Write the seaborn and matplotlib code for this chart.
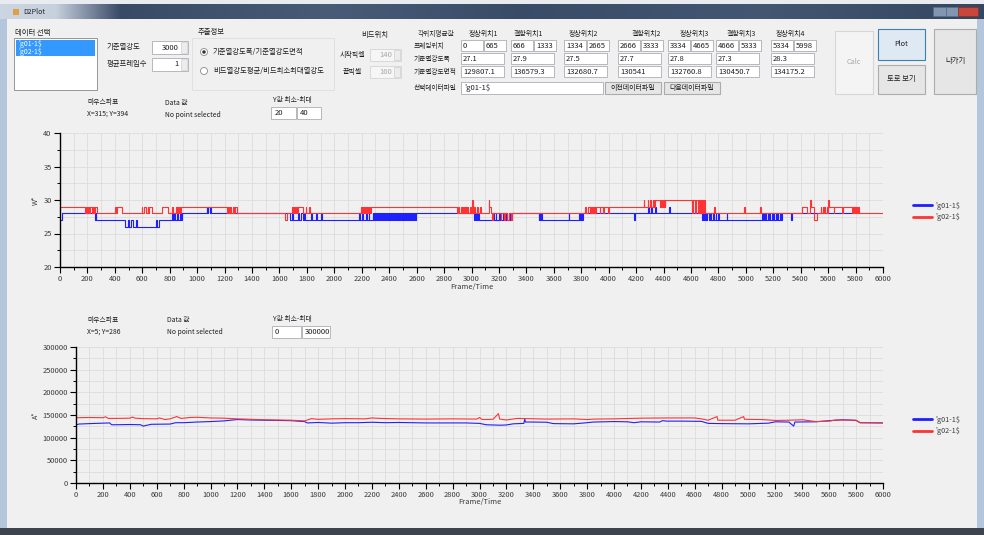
import matplotlib
matplotlib.use("Agg")
import matplotlib.pyplot as plt
from matplotlib.patches import Rectangle, Ellipse
from matplotlib.ticker import MultipleLocator, StrMethodFormatter
import numpy as np
import pandas as pd
import seaborn as sns

# ---- data ----
SERIES = ["'g01-1$", "'g02-1$"]

# upper chart: step series, (frame, level) at each change
TOP_BLUE = [
    (0, 27), (12, 28), (255, 27), (260, 28), (266, 27),
    (474, 26), (498, 27), (504, 26), (520, 27), (530, 26), (556, 27), (561, 26),
    (700, 27), (708, 26), (725, 27),
    (814, 28), (822, 27), (830, 28), (840, 27), (850, 28), (860, 27), (872, 28), (880, 27), (888, 28),
    (1069, 29), (1075, 28), (1080, 29), (1090, 28), (1096, 29), (1104, 28),
    (1680, 27), (1690, 28), (1700, 27), (1735, 28), (1742, 27), (1760, 28), (1768, 27), (1778, 28),
    (1786, 27), (1832, 28), (1838, 27), (1868, 28), (1874, 27), (1903, 28), (1909, 27),
    (2182, 28), (2190, 27), (2200, 28), (2206, 27), (2232, 28), (2240, 27), (2250, 28), (2256, 27),
    (2279, 28), (2285, 27), (2291, 28), (2297, 27), (2303, 28), (2309, 27), (2315, 28), (2321, 27),
    (2327, 28), (2333, 27), (2339, 28), (2345, 27), (2351, 28), (2357, 27), (2363, 28), (2369, 27),
    (2376, 28), (2382, 27), (2388, 28), (2394, 27), (2400, 28), (2406, 27), (2412, 28), (2418, 27),
    (2424, 28), (2430, 27), (2436, 28), (2442, 27), (2448, 28), (2454, 27), (2461, 28), (2467, 27),
    (2473, 28), (2479, 27), (2485, 28), (2491, 27), (2497, 28), (2503, 27), (2509, 28), (2515, 27),
    (2521, 28), (2527, 27), (2533, 28), (2539, 27), (2545, 28), (2551, 27), (2557, 28), (2563, 27),
    (2569, 28), (2575, 27), (2581, 28), (2587, 27), (2594, 28),
    (3018, 27), (3024, 28), (3030, 27), (3036, 28), (3042, 27), (3048, 28), (3054, 27),
    (3155, 28), (3162, 27), (3175, 28), (3182, 27), (3200, 28), (3208, 27), (3230, 28), (3240, 27),
    (3255, 28), (3262, 27), (3275, 28), (3282, 27), (3297, 28),
    (3490, 27), (3495, 28), (3500, 27), (3510, 28), (3516, 27), (3709, 28), (3714, 27),
    (3782, 28), (3788, 27), (3800, 28), (3806, 27), (3815, 28),
    (4182, 27), (4190, 28),
    (4290, 29), (4296, 28), (4310, 29), (4318, 28), (4335, 29), (4345, 28), (4440, 29), (4446, 28),
    (4684, 27), (4690, 28), (4698, 27), (4705, 28), (4712, 27), (4720, 28), (4728, 27), (4740, 28),
    (4748, 27), (4760, 28), (4768, 27), (4780, 28), (4786, 27), (4798, 28), (4805, 27),
    (4860, 28), (4866, 27),
    (5120, 28), (5126, 27), (5132, 28), (5138, 27), (5144, 28), (5150, 27), (5160, 28), (5166, 27),
    (5172, 28), (5178, 27), (5190, 28), (5196, 27), (5202, 28), (5208, 27), (5220, 28), (5226, 27),
    (5232, 28), (5238, 27), (5250, 28), (5256, 27), (5265, 28),
    (5331, 27), (5340, 28),
    (5787, 29), (5793, 28), (5799, 29), (5805, 28), (5811, 29), (5817, 28), (5823, 28),
]

TOP_RED = [
    (0, 29), (182, 28), (190, 29), (198, 28), (205, 29), (215, 28), (222, 29), (232, 28),
    (240, 29), (250, 28), (258, 29), (267, 28),
    (402, 29), (408, 28), (414, 29), (450, 28),
    (595, 29), (600, 28), (615, 29), (630, 28), (640, 29), (645, 28), (650, 29), (668, 28),
    (741, 29), (790, 28),
    (816, 29), (822, 28), (845, 29), (850, 28), (855, 29), (862, 28), (868, 29), (875, 28), (880, 29),
    (1217, 28), (1225, 29), (1232, 28), (1240, 29), (1250, 28), (1258, 29), (1265, 28), (1275, 29), (1290, 28),
    (1640, 27), (1652, 28), (1690, 29), (1696, 28), (1705, 29), (1712, 28), (1722, 29), (1728, 28),
    (1735, 29), (1770, 28), (1790, 29), (1796, 28), (1815, 29), (1820, 28),
    (2194, 29), (2200, 28), (2206, 29), (2212, 28), (2218, 29), (2224, 28), (2230, 29), (2236, 28),
    (2242, 29), (2248, 28), (2254, 29), (2260, 28), (2267, 29),
    (2897, 28), (2905, 29), (2912, 28), (2920, 29), (2930, 28), (2938, 29), (2945, 28), (2955, 29),
    (2962, 28), (2970, 29), (2978, 28), (2990, 29), (2998, 28), (3004, 30), (3008, 28), (3020, 29),
    (3026, 28), (3040, 29), (3046, 28), (3060, 29), (3066, 28), (3125, 30), (3130, 29), (3140, 28),
    (3150, 27), (3158, 28), (3212, 27), (3218, 28), (3240, 27), (3246, 28), (3262, 27), (3270, 28),
    (3285, 27), (3292, 28),
    (3830, 29), (3836, 28), (3850, 29), (3866, 28), (3872, 29), (3878, 28), (3884, 29), (3890, 28),
    (3896, 29), (3903, 28), (3908, 29), (3935, 28), (3940, 29), (3960, 28), (3966, 29), (3995, 28), (4000, 29),
    (4254, 30), (4260, 29), (4284, 30), (4290, 29), (4300, 30), (4310, 29), (4320, 30), (4330, 29),
    (4340, 30), (4372, 29), (4378, 30), (4384, 29), (4390, 30), (4396, 29), (4402, 30), (4408, 29), (4414, 30),
    (4611, 28), (4617, 30), (4630, 28), (4636, 30), (4650, 28), (4656, 30), (4664, 28), (4670, 30),
    (4676, 28), (4682, 30), (4688, 28), (4694, 30), (4700, 28),
    (4768, 29), (4774, 28), (4987, 29), (4993, 28), (5103, 29), (5109, 28),
    (5410, 29), (5445, 28), (5470, 30), (5476, 29), (5500, 27), (5520, 28), (5545, 29), (5550, 28),
    (5560, 29), (5565, 28), (5572, 29), (5580, 28), (5590, 29), (5596, 28), (5600, 30), (5604, 29),
    (5640, 28), (5646, 29), (5700, 28), (5706, 29), (5775, 28), (5780, 29), (5786, 28), (5792, 29),
    (5798, 28), (5804, 29), (5810, 28), (5816, 29), (5823, 28), (6000, 28),
]

# lower chart: area values, (frame, value)
BOT_BLUE = [
    (0, 128000), (20, 130000), (100, 131000), (200, 132000), (250, 132500), (265, 128500),
    (300, 128500), (400, 129000), (480, 128500), (500, 125500), (520, 127000), (560, 129500),
    (700, 130000), (720, 131500), (740, 133000), (800, 133000), (900, 134500), (1000, 135500),
    (1100, 137000), (1200, 140000), (1300, 139000), (1400, 138500), (1500, 138000), (1600, 137500),
    (1700, 135500), (1720, 132500), (1800, 133500), (1900, 132000), (2000, 133000), (2100, 133000),
    (2200, 134000), (2300, 133000), (2400, 133500), (2500, 133000), (2600, 132500), (2700, 132500),
    (2900, 132500), (3000, 131500), (3050, 128500), (3150, 127500), (3200, 128000), (3250, 130500),
    (3330, 131500), (3336, 141000), (3342, 134500), (3400, 134500), (3500, 134000), (3550, 131000),
    (3700, 130500), (3780, 132500), (3850, 134500), (4000, 135500), (4100, 135000), (4150, 133000),
    (4200, 135000), (4340, 134500), (4360, 137500), (4390, 136500), (4500, 136500), (4650, 136000),
    (4700, 131500), (4800, 131000), (5000, 130500), (5150, 132000), (5200, 135000), (5300, 134500),
    (5336, 125500), (5345, 134500), (5500, 135000), (5600, 137500), (5700, 139500), (5800, 138000),
    (5830, 133000), (6000, 132500),
]

BOT_RED = [
    (0, 144000), (100, 144500), (200, 144000), (220, 146000), (240, 142500), (300, 142500),
    (400, 143000), (420, 145500), (440, 143000), (500, 142000), (600, 141500), (620, 143500),
    (660, 140000), (700, 141500), (750, 146500), (780, 142500), (850, 144500), (900, 145000),
    (1000, 143500), (1100, 143000), (1200, 141500), (1300, 140500), (1400, 139500), (1500, 139000),
    (1600, 138500), (1700, 137000), (1750, 142000), (1800, 140500), (1900, 141500), (2000, 142000),
    (2150, 141500), (2200, 143500), (2260, 142500), (2400, 141500), (2600, 141000), (2800, 141500),
    (2980, 141000), (3000, 144500), (3020, 140000), (3100, 140500), (3141, 153000), (3150, 141000),
    (3200, 139000), (3280, 142500), (3350, 142000), (3500, 141000), (3700, 141500), (3800, 140000),
    (3850, 141000), (4000, 141500), (4200, 143000), (4400, 143500), (4600, 143500), (4650, 141500),
    (4700, 138500), (4766, 146500), (4772, 138500), (4900, 138500), (4964, 146500), (4970, 140500),
    (5100, 140000), (5200, 138000), (5300, 138500), (5400, 139500), (5450, 137500), (5500, 135500),
    (5600, 136500), (5650, 139000), (5800, 138500), (5830, 133000), (6000, 132500),
]

# form values shown above the charts
HEADERS = ["정상위치1", "결함위치1", "정상위치2", "결함위치2", "정상위치3", "결함위치3", "정상위치4"]
FRAME_RANGES = [("0", "665"), ("666", "1333"), ("1334", "2665"), ("2666", "3333"),
                ("3334", "4665"), ("4666", "5333"), ("5334", "5998")]
WIDTH_AVG = ["27.1", "27.9", "27.5", "27.7", "27.8", "27.3", "28.3"]
AREA_AVG = ["129807.1", "136579.3", "132680.7", "130541", "132760.8", "130450.7", "134175.2"]

COLORS = {SERIES[0]: "#1f1fff", SERIES[1]: "#ff3333"}

sns.set_theme(style="whitegrid", rc={
    "figure.facecolor": "#f0f0f0", "axes.facecolor": "#f0f0f0",
    "grid.color": "#dcdcdc", "axes.edgecolor": "black",
})
plt.rcParams["font.family"] = ["Noto Sans CJK KR", "DejaVu Sans"]

W, H = 984, 535
UI = 5.3   # form label size
NUM = 5.5  # numbers inside text boxes
fig = plt.figure(figsize=(W / 100, H / 100), dpi=100)


def fx(x):
    return x / W


def fy(y):
    return 1 - y / H


def rect(x0, y0, x1, y1, fc="white", ec="#abadb3", lw=0.6, z=1):
    fig.add_artist(Rectangle((fx(x0), fy(y1)), (x1 - x0) / W, (y1 - y0) / H,
                             transform=fig.transFigure, facecolor=fc, edgecolor=ec,
                             linewidth=lw, zorder=z))


def text(x, y, s, size=UI, color="#1e1e1e", ha="left", z=3):
    fig.text(fx(x), fy(y), s, fontsize=size, color=color, ha=ha, va="center", zorder=z)


def spin(x0, y0, x1, y1, val, enabled=True):
    fc = "white" if enabled else "#f6f6f6"
    tc = "#1e1e1e" if enabled else "#a8a8a8"
    rect(x0, y0, x1, y1, fc=fc, ec="#abadb3" if enabled else "#d4d4d4")
    rect(x1 - 7, y0 + 1, x1 - 1, y1 - 1, fc="#ececec", ec="#c8c8c8", lw=0.4, z=2)
    text(x1 - 9, (y0 + y1) / 2, val, size=NUM, color=tc, ha="right")


def button(x0, y0, x1, y1, label, fc="#e6e6e6", ec="#acacac", tc="#1e1e1e", size=UI):
    rect(x0, y0, x1, y1, fc=fc, ec=ec, lw=0.8)
    text((x0 + x1) / 2, (y0 + y1) / 2, label, size=size, color=tc, ha="center")


# ---- window chrome ----
tb = fig.add_axes([0, fy(19), 1, 15 / H])
xs = np.arange(W)
stops_x = [0, 55, 120, 330, 520, 760, 984]
grad = np.stack([np.interp(xs, stops_x, [0.80, 0.78, 0.22, 0.28, 0.22, 0.26, 0.20]),
                 np.interp(xs, stops_x, [0.84, 0.82, 0.29, 0.36, 0.30, 0.34, 0.28]),
                 np.interp(xs, stops_x, [0.89, 0.87, 0.40, 0.47, 0.41, 0.45, 0.38])], axis=-1)
tb.imshow(grad[None, :, :], aspect="auto", extent=[0, W, 0, 1])
tb.axis("off")
rect(0, 0, 984, 4, fc="#e8ecf1", ec="none")
rect(13, 9, 19, 15, fc="#e0a040", ec="none", z=3)
text(23, 12, "D2Plot", size=5.0, color="#202020")
rect(933, 7, 946, 16, fc="#8196b0", ec="#5b6f88", lw=0.5, z=3)
rect(946, 7, 958, 16, fc="#8196b0", ec="#5b6f88", lw=0.5, z=3)
rect(958, 7, 978, 16, fc="#c8473a", ec="#8e2f26", lw=0.5, z=3)
rect(0, 19, 7, 529, fc="#b3c6db", ec="none")
rect(977, 19, 984, 529, fc="#b3c6db", ec="none")
rect(0, 528, 984, 535, fc="#3d444d", ec="none", z=2)

# ---- form controls ----
text(15, 33, "데이터 선택")
rect(14, 38, 97, 90, fc="white", ec="#828790")
rect(16, 40, 95, 48, fc="#3399ff", ec="none", z=2)
rect(16, 48, 95, 56, fc="#3399ff", ec="none", z=2)
text(18, 44, SERIES[0], size=5.0, color="white")
text(18, 52, SERIES[1], size=5.0, color="white")

text(107, 47, "기준열강도")
spin(152, 41, 188, 54, "3000")
text(107, 64, "평균프레임수")
spin(152, 58, 188, 71, "1")

rect(192, 38, 334, 90, fc="none", ec="#dedede")
text(198, 32, "추출정보")
fig.add_artist(Ellipse((fx(204), fy(52)), 7 / W, 7 / H, transform=fig.transFigure,
                       facecolor="white", edgecolor="#8a8a8a", lw=0.6, zorder=3))
fig.add_artist(Ellipse((fx(204), fy(52)), 3.5 / W, 3.5 / H, transform=fig.transFigure,
                       facecolor="#333333", edgecolor="none", zorder=4))
text(213, 52, "기준열강도폭/기준열강도면적")
fig.add_artist(Ellipse((fx(204), fy(71)), 7 / W, 7 / H, transform=fig.transFigure,
                       facecolor="white", edgecolor="#8a8a8a", lw=0.6, zorder=3))
text(213, 71, "비드열강도평균/비드최소최대열강도")

text(361, 35, "비드위치")
text(340, 55, "시작픽셀", size=5.0)
spin(370, 49, 401, 61, "140", enabled=False)
text(343, 72, "끝픽셀", size=5.0)
spin(370, 66, 401, 78, "160", enabled=False)

text(87, 102, "마우스좌표", size=4.9)
text(87, 114, "X=315; Y=394", size=4.9)
text(165, 103, "Data 값", size=4.9)
text(165, 115, "No point selected", size=4.9)
text(273, 100, "Y값 최소-최대", size=4.9)
rect(271, 107, 296, 119)
text(275, 113, "20", size=NUM)
rect(297, 107, 321, 119)
text(300, 113, "40", size=NUM)

text(418, 34, "각위치평균값", size=4.8)
col_x = [461, 511, 564, 618, 668, 716, 771]
head_cx = [483, 528, 583, 646, 694, 741, 790]
for cx, h in zip(head_cx, HEADERS):
    text(cx, 34, h, ha="center", size=5.0)
text(414, 46, "프레임위치", size=4.8)
text(414, 59, "기준열강도폭", size=4.8)
text(414, 72, "기준열강도면적", size=4.8)
text(414, 88, "선택데이터파일", size=4.8)
for x0, (a, b), wv, av in zip(col_x, FRAME_RANGES, WIDTH_AVG, AREA_AVG):
    rect(x0, 40, x0 + 22, 51)
    text(x0 + 2, 46, a, size=NUM)
    rect(x0 + 23, 40, x0 + 45, 51)
    text(x0 + 25, 46, b, size=NUM)
    rect(x0, 53, x0 + 43, 64)
    text(x0 + 2, 59, wv, size=NUM)
    rect(x0, 66, x0 + 43, 77)
    text(x0 + 2, 72, av, size=NUM)
rect(461, 82, 603, 94)
text(464, 88, SERIES[0], size=NUM)
button(605, 82, 661, 94, "이전데이터파일", size=5.0)
button(664, 82, 720, 94, "다음데이터파일", size=5.0)

button(835, 31, 873, 94, "Calc", fc="#f4f4f4", ec="#d6d6d6", tc="#a8a8a8")
button(878, 29, 925, 60, "Plot", fc="#dfe9f4", ec="#3c7fb1")
button(878, 65, 925, 94, "토로 보기")
button(934, 29, 976, 94, "나가기")

text(87, 320, "마우스좌표", size=4.9)
text(87, 332, "X=5; Y=286", size=4.9)
text(167, 320, "Data 값", size=4.9)
text(167, 332, "No point selected", size=4.9)
text(273, 319, "Y값 최소-최대", size=4.9)
rect(272, 326, 301, 338)
text(275, 332, "0", size=NUM)
rect(302, 326, 330, 338)
text(305, 332, "300000", size=NUM)

# ---- charts ----
ax1 = fig.add_axes([fx(60), fy(267), (883 - 60) / W, (267 - 133) / H])
ax2 = fig.add_axes([fx(76), fy(483), (883 - 76) / W, (483 - 347) / H])

top_df = pd.concat([
    pd.DataFrame(TOP_BLUE, columns=["frame", "value"]).assign(series=SERIES[0]),
    pd.DataFrame(TOP_RED, columns=["frame", "value"]).assign(series=SERIES[1]),
])
bot_df = pd.concat([
    pd.DataFrame(BOT_BLUE, columns=["frame", "value"]).assign(series=SERIES[0]),
    pd.DataFrame(BOT_RED, columns=["frame", "value"]).assign(series=SERIES[1]),
])

sns.lineplot(data=top_df, x="frame", y="value", hue="series", hue_order=SERIES,
             palette=COLORS, estimator=None, sort=False, drawstyle="steps-post",
             linewidth=0.8, ax=ax1)
sns.lineplot(data=bot_df, x="frame", y="value", hue="series", hue_order=SERIES,
             palette=COLORS, estimator=None, sort=False, linewidth=0.8, ax=ax2)

for ax, ylim, major, minor, ylab, yl_x, xl_y, leg_y in [
    (ax1, (20, 40), 5, 2.5, "W*", (40 - 60) / 823, -(283 - 267) / 134, 198),
    (ax2, (0, 300000), 50000, 25000, "A*", (40 - 76) / 807, -(498 - 483) / 136, 412),
]:
    ax.set_xlim(0, 6000)
    ax.set_ylim(*ylim)
    ax.xaxis.set_major_locator(MultipleLocator(200))
    ax.xaxis.set_minor_locator(MultipleLocator(100))
    ax.yaxis.set_major_locator(MultipleLocator(major))
    ax.yaxis.set_minor_locator(MultipleLocator(minor))
    ax.yaxis.set_major_formatter(StrMethodFormatter("{x:.0f}"))
    ax.grid(True, which="both", color="#dcdcdc", linewidth=0.6)
    for side in ("top", "right"):
        ax.spines[side].set_visible(False)
    for side in ("left", "bottom"):
        ax.spines[side].set_color("black")
        ax.spines[side].set_linewidth(1.0)
    ax.tick_params(which="major", direction="out", length=4, width=0.8, color="black",
                   labelsize=5.4, labelcolor="#3a3a3a", pad=2, left=True, bottom=True)
    ax.tick_params(which="minor", direction="out", length=2, width=0.7, color="black",
                   left=True, bottom=True)
    ax.set_ylabel(ylab, fontsize=5.0, color="#3a3a3a")
    ax.yaxis.set_label_coords(yl_x, 0.5)
    ax.set_xlabel("Frame/Time", fontsize=5.4, color="#3a3a3a")
    ax.xaxis.set_label_coords(0.5, xl_y)
    handles, labels = ax.get_legend_handles_labels()
    keep = [(h, l) for h, l in zip(handles, labels) if l in SERIES]
    leg = ax.legend([h for h, _ in keep], [l for _, l in keep], loc="upper left",
                    bbox_to_anchor=(fx(909), fy(leg_y)), bbox_transform=fig.transFigure,
                    frameon=False, fontsize=5.2, handlelength=2.7, handletextpad=0.4,
                    labelspacing=0.5, borderpad=0)
    for ln in leg.get_lines():
        ln.set_linewidth(2.0)
    for t in leg.get_texts():
        t.set_color("#3a3a3a")

fig.savefig("out.png", dpi=100, facecolor=fig.get_facecolor())
